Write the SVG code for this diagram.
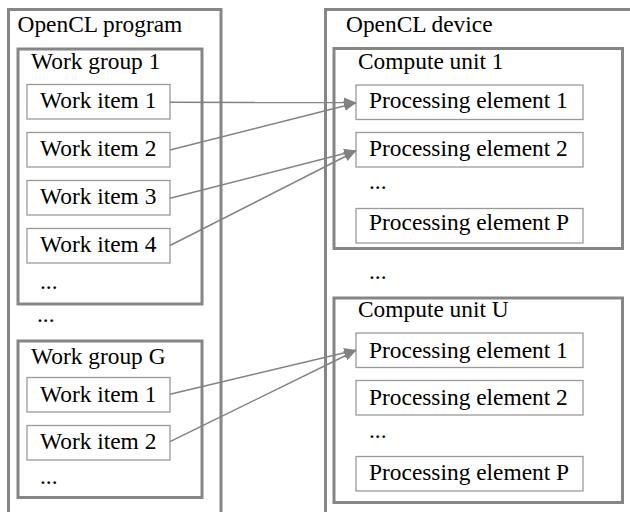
<svg xmlns="http://www.w3.org/2000/svg" width="630" height="512" viewBox="0 0 630 512">
<defs>
<style>
text{font-family:"Liberation Serif","Times New Roman",serif;font-size:23.4px;fill:#000}
.outer{fill:none;stroke:#868686;stroke-width:3}
.grp{fill:#fff;stroke:#868686;stroke-width:3}
.item{fill:#fff;stroke:#9a9a9a;stroke-width:1.3}
.conn{stroke:#828282;stroke-width:1.5;fill:none;marker-end:url(#ah)}
</style>
<marker id="ah" markerUnits="userSpaceOnUse" markerWidth="12" markerHeight="12" viewBox="0 0 12 12" refX="12" refY="6" orient="auto">
<path d="M0,1 L12,6 L0,11 Z" fill="#828282"/>
</marker>
</defs>
<rect width="630" height="512" fill="#fff"/>
<g id="program">
<path class="outer" d="M8.5,520 V9.5 H221 V520"/>
<text x="17.5" y="31.5">OpenCL program</text>
<text x="37" y="322">...</text>
</g>
<g id="workgroup1">
<rect class="grp" x="18" y="49" width="184" height="255"/>
<text x="31" y="68.5">Work group 1</text>
<text x="40" y="289">...</text>
</g>
<g id="wg1-item1"><rect class="item" x="27" y="84.5" width="143" height="34.5"/><text x="40" y="108">Work item 1</text></g>
<g id="wg1-item2"><rect class="item" x="27" y="132.5" width="143" height="34.5"/><text x="40" y="156">Work item 2</text></g>
<g id="wg1-item3"><rect class="item" x="27" y="180.5" width="143" height="34.5"/><text x="40" y="204">Work item 3</text></g>
<g id="wg1-item4"><rect class="item" x="27" y="228.5" width="143" height="34.5"/><text x="40" y="252">Work item 4</text></g>
<g id="workgroupG">
<rect class="grp" x="18" y="341" width="184" height="156.5"/>
<text x="31" y="363.5">Work group G</text>
<text x="40" y="483.5">...</text>
</g>
<g id="wgG-item1"><rect class="item" x="27" y="377.5" width="143" height="34.5"/><text x="40" y="401.5">Work item 1</text></g>
<g id="wgG-item2"><rect class="item" x="27" y="425.5" width="143" height="34.5"/><text x="40" y="449">Work item 2</text></g>
<g id="device">
<path class="outer" d="M325.5,520 V9.5 H640"/>
<text x="346" y="31.5">OpenCL device</text>
<text x="369" y="279">...</text>
</g>
<g id="computeunit1">
<rect class="grp" x="334" y="48.5" width="288.5" height="200"/>
<text x="358" y="69">Compute unit 1</text>
<text x="369" y="188.5">...</text>
</g>
<g id="cu1-pe1"><rect class="item" x="356" y="85" width="227" height="34.5"/><text x="369" y="108">Processing element 1</text></g>
<g id="cu1-pe2"><rect class="item" x="356" y="132.5" width="227" height="34.5"/><text x="369" y="155.5">Processing element 2</text></g>
<g id="cu1-peP"><rect class="item" x="356" y="208.5" width="227" height="34.5"/><text x="369" y="230">Processing element P</text></g>
<g id="computeunitU">
<rect class="grp" x="334" y="298" width="288.5" height="204.5"/>
<text x="358" y="316.5">Compute unit U</text>
<text x="369" y="437.5">...</text>
</g>
<g id="cuU-pe1"><rect class="item" x="356" y="333" width="227" height="34.5"/><text x="369" y="358">Processing element 1</text></g>
<g id="cuU-pe2"><rect class="item" x="356" y="380.5" width="227" height="34.5"/><text x="369" y="405">Processing element 2</text></g>
<g id="cuU-peP"><rect class="item" x="356" y="456.5" width="227" height="34.5"/><text x="369" y="480">Processing element P</text></g>
<g id="connectors">
<line class="conn" x1="170" y1="102.3" x2="356" y2="102.5"/>
<line class="conn" x1="170" y1="150" x2="356" y2="103"/>
<line class="conn" x1="170" y1="198.3" x2="356" y2="150.5"/>
<line class="conn" x1="170" y1="245.5" x2="356" y2="151"/>
<line class="conn" x1="170" y1="394.3" x2="356" y2="350"/>
<line class="conn" x1="170" y1="441.7" x2="356" y2="350.5"/>
</g>
</svg>
